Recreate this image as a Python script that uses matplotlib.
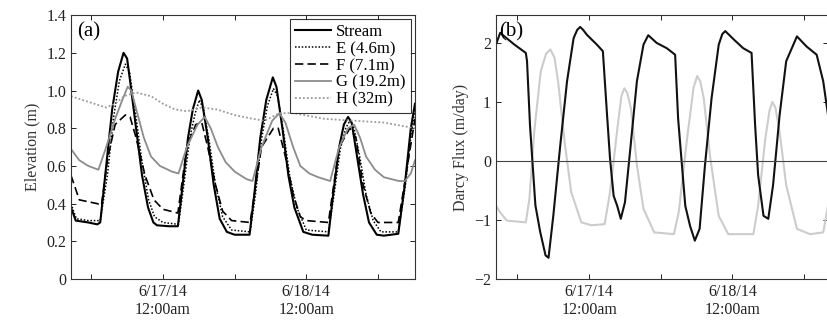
import matplotlib
matplotlib.use("Agg")
import matplotlib.pyplot as plt

plt.rcParams["font.family"] = ["Liberation Serif", "DejaVu Serif"]

# hours relative to 6/17/14 12:00am
stream_t = [-15.4, -14.6, -12.5, -11.0, -10.5, -9.5, -8.5, -7.5, -6.6, -6.0, -5.5, -4.5, -3.5, -2.5, -1.6, -1.0, 1.0, 2.5,
            3.3, 4.2, 5.0, 5.9, 6.5, 7.5, 8.5, 9.5, 10.7, 12.0, 14.5, 15.3, 16.3, 17.3, 18.4, 19.0, 20.0, 21.0, 22.0, 23.5,
            25.0, 27.7, 28.5, 29.5, 30.3, 31.0, 31.6, 32.5, 33.5, 34.5, 35.8, 37.0, 39.4, 40.5, 41.5, 42.2]
stream_v = [0.38, 0.31, 0.30, 0.29, 0.30, 0.60, 0.90, 1.10, 1.20, 1.17, 1.05, 0.80, 0.55, 0.38, 0.30, 0.285, 0.28, 0.28,
            0.50, 0.75, 0.90, 1.00, 0.95, 0.75, 0.50, 0.32, 0.25, 0.235, 0.235, 0.45, 0.75, 0.95, 1.07, 1.02, 0.80, 0.55, 0.38, 0.25,
            0.235, 0.23, 0.45, 0.70, 0.82, 0.86, 0.83, 0.65, 0.45, 0.30, 0.235, 0.23, 0.24, 0.50, 0.80, 0.93]

e_t = [-15.4, -14.5, -12.5, -10.5, -9.3, -8.3, -7.3, -6.3, -5.6, -4.6, -3.5, -2.4, -1.4, 0.0, 2.6,
       3.5, 4.5, 5.4, 6.1, 6.8, 7.8, 8.8, 10.0, 11.5, 14.6, 15.5, 16.5, 17.5, 18.5, 19.2, 20.2, 21.2, 22.4, 24.0,
       27.7, 28.7, 29.7, 30.6, 31.3, 32.0, 33.0, 34.0, 35.2, 36.5, 39.4, 40.6, 41.6, 42.2]
e_v = [0.40, 0.32, 0.31, 0.31, 0.55, 0.85, 1.05, 1.14, 1.10, 0.88, 0.62, 0.42, 0.33, 0.30, 0.29,
       0.50, 0.75, 0.88, 0.95, 0.90, 0.72, 0.50, 0.33, 0.26, 0.25, 0.45, 0.74, 0.92, 1.01, 0.97, 0.78, 0.55, 0.38, 0.26,
       0.25, 0.46, 0.69, 0.80, 0.84, 0.80, 0.64, 0.45, 0.31, 0.25, 0.25, 0.50, 0.78, 0.90]

f_t = [-15.4, -14.0, -11.0, -10.3, -9.2, -8.0, -6.3, -5.5, -4.5, -3.0, -1.5, 0.0, 2.5,
       4.0, 5.5, 6.5, 7.5, 8.8, 10.0, 11.5, 14.6, 16.5, 18.5, 19.3, 20.5, 21.8, 23.0, 24.0,
       27.7, 29.5, 31.3, 32.3, 33.5, 34.8, 36.0, 39.4, 42.2]
f_v = [0.55, 0.42, 0.40, 0.39, 0.65, 0.82, 0.87, 0.86, 0.75, 0.55, 0.42, 0.37, 0.35,
       0.70, 0.82, 0.83, 0.70, 0.50, 0.36, 0.31, 0.30, 0.70, 0.80, 0.80, 0.65, 0.45, 0.33, 0.31,
       0.30, 0.70, 0.80, 0.75, 0.50, 0.35, 0.30, 0.30, 0.85]

g_t = [-15.4, -14.0, -12.5, -10.8, -9.5, -8.0, -6.8, -5.9, -5.3, -4.3, -3.2, -2.0, -0.5, 1.5, 2.6,
       4.0, 5.8, 7.0, 8.0, 9.2, 10.5, 12.0, 14.0, 15.0, 16.5, 18.3, 19.5, 20.5, 21.8, 23.0, 24.5, 26.0, 28.0,
       29.5, 31.0, 32.0, 33.0, 34.0, 35.5, 37.0, 39.5, 40.5, 41.5, 42.2]
g_v = [0.69, 0.63, 0.60, 0.58, 0.70, 0.85, 0.95, 1.02, 1.00, 0.88, 0.75, 0.65, 0.60, 0.57, 0.56,
       0.70, 0.82, 0.86, 0.80, 0.70, 0.62, 0.57, 0.53, 0.52, 0.70, 0.84, 0.88, 0.83, 0.70, 0.60, 0.56, 0.54, 0.52,
       0.70, 0.80, 0.82, 0.75, 0.65, 0.58, 0.54, 0.52, 0.52, 0.56, 0.63]

h_t = [-15.4, -12.5, -9.5, -8.0, -6.5, -4.5, -2.0, 0.0, 2.0, 4.0, 6.5, 9.0, 12.0, 15.0, 17.0, 19.5, 22.0,
       27.0, 32.0, 37.0, 42.2]
h_v = [0.97, 0.94, 0.91, 0.93, 0.97, 0.99, 0.97, 0.93, 0.90, 0.89, 0.91, 0.90, 0.87, 0.85, 0.84, 0.88, 0.88,
       0.85, 0.84, 0.83, 0.80]

# Darcy flux
flux_t = [-15.6, -14.9, -12.5, -10.6, -10.4, -9.9, -9.0, -8.2, -7.3, -6.8, -6.0, -4.9, -3.7, -2.6, -2.0, -1.5, -1.0, -0.4, 1.3, 2.3,
          3.0, 3.5, 4.1, 4.7, 5.3, 6.0, 6.9, 8.0, 9.1, 9.9, 11.3, 13.0, 14.4, 14.9, 15.5, 16.1, 16.9, 17.7, 18.5,
          19.4, 20.5, 21.7, 22.3, 22.8, 24.2, 25.8, 27.2, 27.8, 28.3, 29.2, 30.0, 30.8, 31.9, 33.0, 34.8, 36.4, 38.1, 39.2, 40.0]
flux_v = [1.97, 2.17, 1.97, 1.83, 1.69, 0.60, -0.75, -1.20, -1.60, -1.64, -0.93, 0.20, 1.35, 2.08, 2.22, 2.27, 2.22, 2.14, 1.97, 1.86,
          0.78, 0.04, -0.59, -0.76, -0.98, -0.70, 0.21, 1.35, 1.97, 2.13, 2.00, 1.91, 1.80, 0.72, -0.02, -0.76, -1.10, -1.35, -1.15,
          -0.07, 1.06, 1.97, 2.15, 2.20, 2.06, 1.91, 1.83, 0.60, -0.24, -0.93, -0.98, -0.41, 0.78, 1.69, 2.11, 1.94, 1.80, 1.35, 0.78]

flux2_t = [-15.6, -14.9, -13.8, -10.6, -10.0, -9.2, -8.1, -7.2, -6.5, -5.8, -5.2, -4.1, -3.0, -1.3, 0.4, 2.6,
           3.5, 4.8, 5.4, 5.9, 6.4, 7.0, 8.0, 9.1, 10.9, 14.2, 15.0, 16.4, 17.5, 18.1, 18.6, 19.2, 20.3, 21.7, 23.3, 27.5,
           28.3, 29.5, 30.2, 30.7, 31.2, 31.9, 33.0, 34.8, 37.0, 39.2, 40.0]
flux2_v = [-0.76, -0.87, -1.01, -1.04, -0.64, 0.49, 1.52, 1.82, 1.89, 1.75, 1.35, 0.32, -0.53, -1.04, -1.09, -1.07,
           -0.53, 0.61, 1.10, 1.23, 1.15, 0.89, -0.07, -0.81, -1.21, -1.24, -0.87, 0.38, 1.25, 1.44, 1.35, 1.06, 0.04, -0.93, -1.24, -1.24,
           -0.76, 0.38, 0.85, 1.00, 0.90, 0.49, -0.41, -1.15, -1.24, -1.21, -0.76]

xticks = [-12, 0, 12, 24, 36]
xticklabels = ["", "6/17/14\n12:00am", "", "6/18/14\n12:00am", ""]

fig = plt.figure(figsize=(8.28, 3.21), dpi=100)
ax1 = fig.add_axes([0.0857, 0.1308, 0.4155, 0.822])
ax2 = fig.add_axes([0.599, 0.1308, 0.401, 0.822])

ax1.plot(stream_t, stream_v, color="black", lw=1.5, label="Stream")
ax1.plot(e_t, e_v, color="black", lw=1.1, ls=(0, (1, 1.2)), label="E (4.6m)")
ax1.plot(f_t, f_v, color="black", lw=1.2, ls=(0, (5, 2.5)), label="F (7.1m)")
ax1.plot(g_t, g_v, color="#8c8c8c", lw=1.3, label="G (19.2m)")
ax1.plot(h_t, h_v, color="#9a9a9a", lw=1.3, ls=(0, (1, 1.2)), label="H (32m)")
ax1.set_xlim(-15.4, 42.2)
ax1.set_ylim(0, 1.4)
ax1.set_yticks([0, 0.2, 0.4, 0.6, 0.8, 1.0, 1.2, 1.4])
ax1.set_yticklabels(["0", "0.2", "0.4", "0.6", "0.8", "1.0", "1.2", "1.4"])
ax1.set_ylabel("Elevation (m)", fontsize=11.5, color="#333333")
ax1.text(0.018, 0.935, "(a)", transform=ax1.transAxes, fontsize=15, va="center")
leg = ax1.legend(loc="upper right", fontsize=12, frameon=True, fancybox=False, handlelength=2.2,
                 borderpad=0.3, labelspacing=0.05, handletextpad=0.3, borderaxespad=0.25)
leg.get_frame().set_edgecolor("black")
leg.get_frame().set_linewidth(0.8)

ax2.plot(flux2_t, flux2_v, color="#cccccc", lw=1.5)
ax2.plot(flux_t, flux_v, color="#111111", lw=1.5)
ax2.axhline(0, color="#444444", lw=0.8)
ax2.set_xlim(-15.6, 40.0)
ax2.set_ylim(-2, 2.47)
ax2.set_yticks([-2, -1, 0, 1, 2])
ax2.set_ylabel("Darcy Flux (m/day)", fontsize=11.5, color="#333333")
ax2.text(0.01, 0.935, "(b)", transform=ax2.transAxes, fontsize=15, va="center")
ax2.spines["right"].set_visible(False)

for ax in (ax1, ax2):
    ax.set_xticks(xticks)
    ax.set_xticklabels(xticklabels)
    ax.tick_params(direction="in", length=3.5, width=0.7, top=True, right=True, labelsize=11.5,
                   colors="#222222")
    for s in ax.spines.values():
        s.set_linewidth(0.8)
        s.set_color("#333333")

fig.savefig("out.png", dpi=100)
